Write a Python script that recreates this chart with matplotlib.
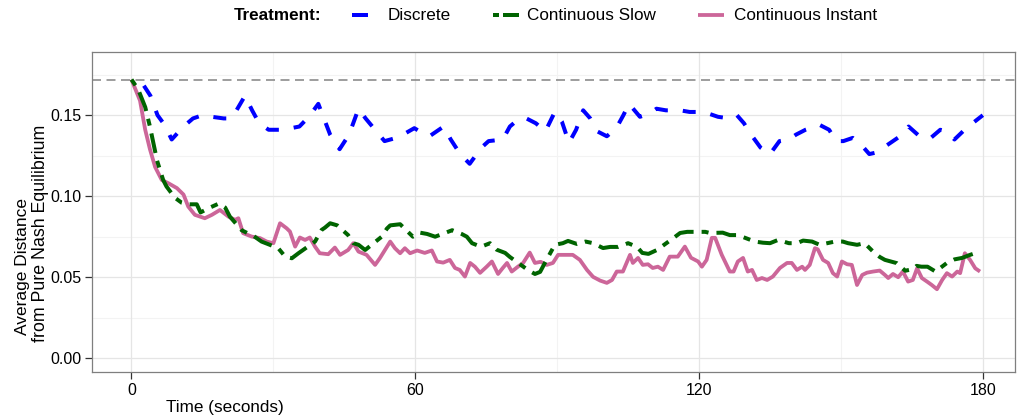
import matplotlib
matplotlib.use("Agg")
import matplotlib.pyplot as plt
from matplotlib.lines import Line2D

plt.rcParams['font.family'] = ['Liberation Sans', 'DejaVu Sans']
plt.rcParams['lines.scale_dashes'] = False

# ---------------- data ----------------
series_names = ["Discrete", "Continuous Slow", "Continuous Instant"]
legend_title = "Treatment:"
x_ticks = [0, 60, 120, 180]
y_ticks = [0.00, 0.05, 0.10, 0.15]
y_tick_labels = ["0.00", "0.05", "0.10", "0.15"]
nash_ref = 0.172

discrete_t = [0, 2, 4, 5.5, 7, 8.5, 11, 13, 15, 17, 19.5, 21, 22, 24, 25.5, 27, 29, 32,
              35.5, 37.5, 39.5, 42, 44, 46, 48, 49.5, 51.5, 53.5, 56, 58, 59.8, 61.5, 63,
              66, 67.5, 69.5, 71.5, 74, 75.5, 78.5, 80, 82, 83.5, 85.5, 87.5, 89.5, 91,
              92.5, 94, 95.5, 97, 98.5, 100.5, 102.5, 104, 105.2, 107.5, 109.5, 111, 113,
              116, 118, 121, 124, 126.5, 128, 129.5, 131, 133, 135, 137, 139, 140.5, 142.5,
              144.5, 145.5, 147.5, 149, 150.5, 152.5, 154.5, 156, 157.5, 160, 162.5, 164.3,
              167, 169, 171, 172.3, 174, 176.5, 180]
discrete_v = [0.172, 0.171, 0.162, 0.150, 0.144, 0.135, 0.143, 0.148, 0.150, 0.149, 0.148,
              0.148, 0.152, 0.162, 0.153, 0.145, 0.141, 0.141, 0.143, 0.149, 0.157, 0.138,
              0.129, 0.138, 0.154, 0.148, 0.141, 0.134, 0.136, 0.139, 0.142, 0.139, 0.137,
              0.143, 0.135, 0.126, 0.120, 0.130, 0.134, 0.135, 0.143, 0.148, 0.148, 0.145,
              0.140, 0.152, 0.146, 0.133, 0.141, 0.153, 0.148, 0.140, 0.137, 0.142, 0.150,
              0.157, 0.149, 0.151, 0.154, 0.153, 0.153, 0.152, 0.152, 0.149, 0.148, 0.150,
              0.145, 0.138, 0.130, 0.126, 0.134, 0.135, 0.138, 0.141, 0.143, 0.144, 0.141,
              0.134, 0.134, 0.136, 0.131, 0.126, 0.127, 0.132, 0.137, 0.143, 0.136, 0.136,
              0.141, 0.140, 0.135, 0.142, 0.150]

slow_t = [0, 1.4, 2.9, 3.9, 5.4, 6.7, 7.4, 9.2, 10.6, 12, 13.8, 14.6, 16.6, 18.5, 19.8,
          20.8, 23.3, 25, 25.7, 27.5, 31, 32.5, 33.9, 35.3, 38.8, 40.2, 40.9, 42, 43.5,
          45.8, 46.9, 48, 49.4, 52.9, 54, 54.7, 56.8, 59.5, 61, 62.5, 64.2, 67.8, 69.8,
          70.9, 72, 73.9, 75.8, 77.2, 79, 80, 83.8, 85.3, 86.4, 87.4, 89.5, 91.2, 92.3,
          94.2, 96, 97.6, 99.7, 101.2, 102.9, 105, 106.9, 108, 109.3, 111.1, 114.5, 116,
          117.5, 121.3, 122.3, 125, 126.5, 128.2, 131.8, 133.5, 135, 136.7, 139, 140.7,
          142, 143.9, 145.5, 148.7, 150.4, 151.5, 153.4, 155, 156.8, 158.2, 159.3, 161.8,
          163.6, 165.2, 166, 167, 168.3, 170, 172.4, 174, 175.6, 177.3, 179.4]
slow_v = [0.172, 0.166, 0.155, 0.143, 0.122, 0.110, 0.106, 0.099, 0.096, 0.095, 0.095,
          0.090, 0.093, 0.0955, 0.093, 0.0874, 0.079, 0.0765, 0.0757, 0.072, 0.068,
          0.0627, 0.0617, 0.0648, 0.072, 0.0792, 0.0806, 0.0833, 0.082, 0.076, 0.071,
          0.070, 0.0668, 0.075, 0.080, 0.082, 0.0827, 0.075, 0.0775, 0.0767, 0.075, 0.079,
          0.0767, 0.075, 0.071, 0.0688, 0.071, 0.067, 0.065, 0.0625, 0.0545, 0.052,
          0.0533, 0.0588, 0.070, 0.071, 0.0724, 0.0705, 0.072, 0.071, 0.068, 0.0687,
          0.0687, 0.071, 0.0687, 0.065, 0.0644, 0.0668, 0.074, 0.0773, 0.078, 0.078,
          0.0773, 0.0775, 0.076, 0.076, 0.072, 0.0713, 0.071, 0.073, 0.071, 0.071, 0.0726,
          0.072, 0.070, 0.072, 0.072, 0.071, 0.070, 0.071, 0.0658, 0.0625, 0.0607, 0.0587,
          0.054, 0.055, 0.057, 0.0565, 0.0565, 0.0535, 0.0588, 0.061, 0.0619, 0.0638,
          0.0658]

instant_t = [0, 1.8, 2.9, 3.9, 5, 6.4, 7.8, 9.6, 11, 12, 13.4, 15.5, 17, 18.7, 20.5, 21.9,
             22.6, 23.6, 25.4, 27.2, 28.6, 30, 31.4, 32.8, 33.5, 34.6, 35.6, 36.7, 37.7,
             38.8, 39.8, 41.6, 43, 44.1, 45.8, 46.9, 48, 49.7, 51.5, 52.5, 54.7, 55.7,
             56.8, 57.8, 58.9, 60.4, 62, 63.5, 64.6, 65.9, 67.3, 68.4, 69.4, 70.5, 71.6,
             72.6, 73.7, 75.1, 76.2, 77.5, 78.5, 79.4, 80.4, 81.7, 82.8, 84.2, 85.3, 86.5,
             87.8, 89.1, 90.2, 92, 93.3, 94.8, 96.3, 97.6, 99.1, 100.5, 101.6, 102.6, 103.9,
             105.4, 106, 107.1, 108.1, 109.2, 110.2, 111.3, 112.4, 113.8, 115.5, 117,
             118.3, 119.8, 120.6, 121.6, 122.7, 123.4, 124.8, 126.5, 127.3, 128.2, 129.3,
             130.3, 131.2, 132.2, 133.3, 134.4, 135.6, 137.1, 138.6, 139.6, 140.7, 141.8,
             142.4, 143.4, 144.5, 145.1, 146.2, 147.3, 148.3, 149.2, 150.2, 151.3, 152.3,
             153.4, 154.5, 155.5, 156.8, 158.2, 159.3, 160, 161, 162.1, 163.1, 164.2, 165.2,
             166.1, 167.1, 168.2, 169.2, 170.3, 171.4, 172.4, 173.5, 174.6, 175.2, 176.2,
             177.3, 178.4, 179.4]
instant_v = [0.172, 0.159, 0.141, 0.129, 0.118, 0.110, 0.108, 0.105, 0.101, 0.0936, 0.0885,
             0.0864, 0.0885, 0.0915, 0.0874, 0.0854, 0.0864, 0.0772, 0.0751, 0.0741,
             0.0720, 0.0710, 0.0833, 0.0802, 0.0782, 0.0689, 0.0745, 0.0730, 0.0745,
             0.0689, 0.0648, 0.0642, 0.0683, 0.0638, 0.0668, 0.0710, 0.0658, 0.0638,
             0.0576, 0.0617, 0.0720, 0.0679, 0.0648, 0.0679, 0.0648, 0.0665, 0.0650,
             0.0665, 0.0597, 0.0590, 0.0607, 0.0557, 0.0545, 0.0504, 0.0588, 0.0565,
             0.0527, 0.0565, 0.0597, 0.0520, 0.0557, 0.0588, 0.0535, 0.0565, 0.0588,
             0.0652, 0.0588, 0.0595, 0.0576, 0.0588, 0.0638, 0.0638, 0.0638, 0.0607,
             0.0545, 0.0502, 0.0479, 0.0465, 0.0483, 0.0535, 0.0535, 0.0638, 0.0588,
             0.0619, 0.0576, 0.0580, 0.0557, 0.0565, 0.0545, 0.0627, 0.0627, 0.0689,
             0.0620, 0.0597, 0.0565, 0.0607, 0.0743, 0.0743, 0.0638, 0.0535, 0.0535,
             0.0597, 0.0619, 0.0535, 0.0545, 0.0483, 0.0495, 0.0483, 0.0504, 0.0557,
             0.0588, 0.0588, 0.0545, 0.0565, 0.0545, 0.0576, 0.0679, 0.0672, 0.0607,
             0.0588, 0.0525, 0.0504, 0.0597, 0.0580, 0.0576, 0.0452, 0.0514, 0.0528,
             0.0535, 0.0541, 0.0514, 0.0495, 0.0520, 0.0500, 0.0535, 0.0473, 0.0483,
             0.0555, 0.0495, 0.0473, 0.0452, 0.0426, 0.0483, 0.0525, 0.0504, 0.0535,
             0.0525, 0.0648, 0.0607, 0.0555, 0.0535]

# ---------------- style ----------------
W, H = 1017, 419
PX = 0.72  # points per pixel at dpi 100
col_disc, col_slow, col_inst = "#0000FF", "#006400", "#CC6699"
dash_disc = (13 * PX, (13 * PX, 15 * PX))
dash_slow = (0, (7 * PX, 8 * PX, 20 * PX, 8 * PX))
dash_ref = (0, (9 * PX, 5.5 * PX))
fs = 12.3

fig = plt.figure(figsize=(W / 100, H / 100), dpi=100)
ax = fig.add_axes([92 / W, (H - 372) / H, (1015 - 92) / W, (372 - 52) / H])

ax.set_xlim(-8.35, 186.8)
ax.set_ylim(-0.0085, 0.189)

for xm in [30, 90, 150]:
    ax.axvline(xm, color="#F3F3F3", lw=0.8, zorder=0)
for ym in [0.025, 0.075, 0.125, 0.175]:
    ax.axhline(ym, color="#F3F3F3", lw=0.8, zorder=0)
for xm in x_ticks:
    ax.axvline(xm, color="#E5E5E5", lw=0.9, zorder=0)
for ym in y_ticks:
    ax.axhline(ym, color="#E5E5E5", lw=0.9, zorder=0)

ax.axhline(nash_ref, color="#808080", lw=1.5 * PX, linestyle=dash_ref, zorder=1)

ax.plot(instant_t, instant_v, color=col_inst, lw=3.8 * PX, solid_capstyle="butt",
        solid_joinstyle="round", zorder=2)
ax.plot(slow_t, slow_v, color=col_slow, lw=4 * PX, linestyle=dash_slow,
        dash_capstyle="butt", zorder=3)
ax.plot(discrete_t, discrete_v, color=col_disc, lw=4 * PX, linestyle=dash_disc,
        dash_capstyle="butt", zorder=4)

ax.set_xticks(x_ticks)
ax.set_xticklabels([str(v) for v in x_ticks])
ax.set_yticks(y_ticks)
ax.set_yticklabels(y_tick_labels)
ax.tick_params(axis="both", length=5, width=0.9, color="#333333", labelsize=11.5,
               labelcolor="black")
ax.tick_params(axis="y", pad=2.5)
ax.tick_params(axis="x", pad=3)
for s in ax.spines.values():
    s.set_color("#7F7F7F")
    s.set_linewidth(0.9)

# axis titles
fig.text(225 / W, 1 - 407 / H, "Time (seconds)", ha="center", va="center", fontsize=fs)
fig.text(23 / W, 1 - 335 / H, "Average Distance", ha="center", va="bottom",
         rotation=90, fontsize=12.5)
fig.text(41 / W, 1 - 342 / H, "from Pure Nash Equilibrium", ha="center", va="bottom",
         rotation=90, fontsize=12.8)

# legend (top)
ly = 1 - 15 / H
fig.text(234 / W, ly, legend_title, ha="left", va="center", fontsize=fs,
         fontweight="bold")
fig.add_artist(Line2D([352 / W, 368 / W], [ly, ly], color=col_disc, lw=4 * PX,
                      solid_capstyle="butt"))
fig.text(388 / W, ly, series_names[0], ha="left", va="center", fontsize=fs)
fig.add_artist(Line2D([493 / W, 519 / W], [ly, ly], color=col_slow, lw=4 * PX,
                      linestyle=(0, (6 * PX, 4 * PX, 16 * PX, 4 * PX)), dash_capstyle="butt"))
fig.text(527 / W, ly, series_names[1], ha="left", va="center", fontsize=fs)
fig.add_artist(Line2D([698 / W, 724 / W], [ly, ly], color=col_inst, lw=3.8 * PX,
                      solid_capstyle="butt"))
fig.text(734 / W, ly, series_names[2], ha="left", va="center", fontsize=fs)

fig.savefig("out.png", dpi=100)
